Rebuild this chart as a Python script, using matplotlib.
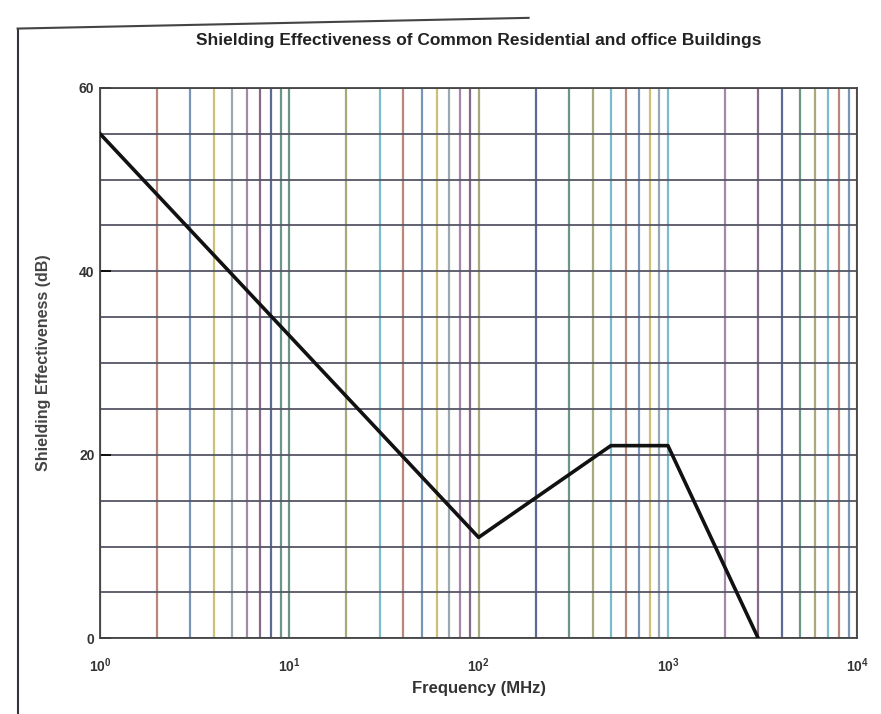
import matplotlib
matplotlib.use('Agg')
import matplotlib.pyplot as plt
from matplotlib.ticker import LogLocator, MultipleLocator, NullFormatter
from matplotlib.lines import Line2D
import numpy as np

# corner points of the shielding curve (MHz, dB)
freq = [1, 100, 500, 1000, 3000]
se_db = [55, 11, 21, 21, 0]

title = 'Shielding Effectiveness of Common Residential and office Buildings'
xlab = 'Frequency (MHz)'
ylab = 'Shielding Effectiveness (dB)'

# scanned look: vertical grid lines come out in odd colours
grid_cols = ['#7a5a7a', '#c9b86a', '#6fb3c6', '#4a5a8a', '#8fa0a8',
             '#b07a6a', '#5a8a7a', '#9a7aa0', '#6a8ab0', '#a0a070']

plt.rcParams['font.family'] = ['Liberation Sans', 'DejaVu Sans']

fig = plt.figure(figsize=(8.81, 7.14), dpi=100)
ax = fig.add_axes([0.1135, 0.106, 0.8595, 0.771])

ax.plot(freq, se_db, color='#111111', lw=2.6, zorder=5)

ax.set_xscale('log')
ax.set_xlim(1, 1e4)
ax.set_ylim(0, 60)
ax.yaxis.set_major_locator(MultipleLocator(20))
ax.yaxis.set_minor_locator(MultipleLocator(5))
ax.xaxis.set_major_locator(LogLocator(base=10, numticks=10))
ax.xaxis.set_minor_locator(LogLocator(base=10, subs=np.arange(2, 10), numticks=20))
ax.xaxis.set_minor_formatter(NullFormatter())

ax.grid(True, which='both', axis='y', color='#555566', lw=1.3)
ax.grid(True, which='both', axis='x', lw=1.6)
ax.tick_params(which='both', direction='in', length=0, labelsize=10)
ax.tick_params(axis='y', which='major', length=8, width=1.2, pad=4)
ax.tick_params(axis='x', which='major', pad=13)
for lbl in ax.get_xticklabels() + ax.get_yticklabels():
    lbl.set_fontweight('bold')
    lbl.set_color('#333333')

fig.canvas.draw()
k = 0
for t in ax.xaxis.get_major_ticks() + ax.xaxis.get_minor_ticks():
    t.gridline.set_color(grid_cols[k % len(grid_cols)])
    t.gridline.set_alpha(0.9)
    k += 3

for s in ax.spines.values():
    s.set_color('#444444')
    s.set_linewidth(1.3)

ax.set_title(title, fontsize=12.5, fontweight='bold', color='#222222', pad=31)
ax.set_xlabel(xlab, fontsize=12, fontweight='bold', color='#333333', labelpad=4)
ax.set_ylabel(ylab, fontsize=11.5, fontweight='bold', color='#444444', labelpad=20)

# scan border
fig.add_artist(Line2D([0.02, 0.02], [0.0, 0.96], color='#333344', lw=1.5))
fig.add_artist(Line2D([0.02, 0.6], [0.96, 0.975], color='#444444', lw=1.5))

fig.savefig('out.png', dpi=100)
